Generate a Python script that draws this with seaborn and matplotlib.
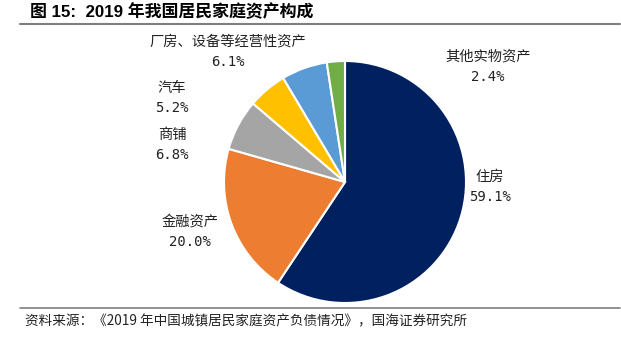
import matplotlib
matplotlib.use("Agg")
import matplotlib.pyplot as plt
import seaborn as sns
from matplotlib.lines import Line2D

categories = ["住房", "金融资产", "商铺", "汽车", "厂房、设备等经营性资产", "其他实物资产"]
values = [59.1, 20.0, 6.8, 5.2, 6.1, 2.4]
value_labels = ["59.1%", "20.0%", "6.8%", "5.2%", "6.1%", "2.4%"]
colors = ["#002060", "#ED7D31", "#A5A5A5", "#FFC000", "#5B9BD5", "#70AD47"]

title = "图 15:  2019 年我国居民家庭资产构成"
source = "资料来源：《2019 年中国城镇居民家庭资产负债情况》，国海证券研究所"

sns.set_theme(style="white")
plt.rcParams['font.family'] = ['Noto Sans CJK SC', 'DejaVu Sans']

W, H = 621, 342
fig = plt.figure(figsize=(W / 100, H / 100), dpi=100)
cx, cy, r = 345, 182, 121
ax = fig.add_axes([(cx - r) / W, (H - cy - r) / H, 2 * r / W, 2 * r / H])
palette = sns.color_palette(colors)
ax.pie(values, colors=palette, startangle=90, counterclock=False,
       wedgeprops=dict(edgecolor="white", linewidth=1.5))
ax.set_xlim(-1, 1)
ax.set_ylim(-1, 1)
ax.set_aspect("equal")
ax.axis("off")

# label layout (pixel positions of label centres)
label_pos = [(490, 177), (190, 222), (172, 135), (172, 88), (228, 42), (488, 57)]
for name, vl, (px, py) in zip(categories, value_labels, label_pos):
    fig.text(px / W, 1 - py / H, name, ha="center", va="center", fontsize=10.3, color="#222222")
    fig.text(px / W, 1 - (py + 20) / H, vl, ha="center", va="center", fontsize=10,
             color="#222222", family=['DejaVu Sans Mono', 'Noto Sans CJK SC'])

fig.text(30 / W, 1 - 12 / H, title, ha="left", va="center", fontsize=12.2, fontweight="bold",
         family=['Liberation Sans', 'Noto Sans CJK SC'], color="#000000")
fig.text(25 / W, 1 - 321 / H, source, ha="left", va="center", fontsize=9.8, color="#222222")

fig.add_artist(Line2D([20 / W, 620 / W], [1 - 24 / H, 1 - 24 / H], color="#7f7f7f", lw=1.5))
fig.add_artist(Line2D([20 / W, 620 / W], [1 - 308 / H, 1 - 308 / H], color="#7f7f7f", lw=1.2))

fig.savefig("out.png", dpi=100)
